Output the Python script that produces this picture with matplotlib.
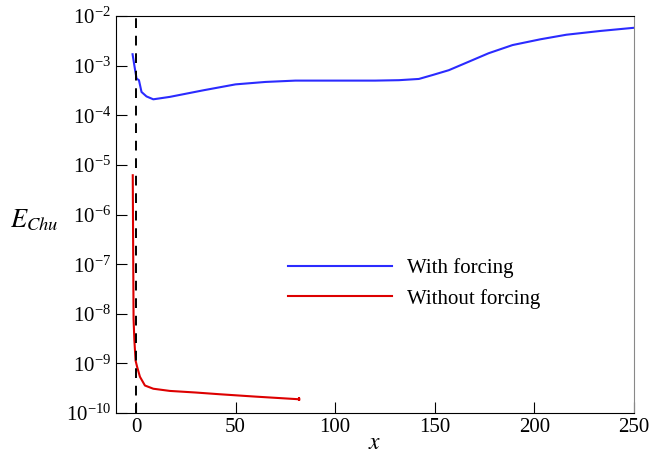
import matplotlib
matplotlib.use("Agg")
import matplotlib.pyplot as plt

plt.rcParams['font.family'] = ['Liberation Serif', 'DejaVu Serif']
plt.rcParams['mathtext.fontset'] = 'stix'

# with forcing
x_forced = [-1.7, -0.5, 0.3, 1.5, 2.8, 5.3, 8.7, 17, 34, 50, 65, 80, 100, 120,
            132, 142, 149, 157, 167, 177, 189, 203, 216, 233, 250]
e_forced = [1.7e-3, 8.5e-4, 5.5e-4, 5.1e-4, 2.95e-4, 2.4e-4, 2.1e-4, 2.35e-4,
            3.2e-4, 4.2e-4, 4.7e-4, 5.0e-4, 5.0e-4, 5.0e-4, 5.1e-4, 5.4e-4,
            6.5e-4, 8.1e-4, 1.2e-3, 1.78e-3, 2.6e-3, 3.4e-3, 4.2e-3, 5.0e-3, 5.8e-3]

# without forcing
x_free = [-1.6, -1.4, -1.2, -0.8, -0.2, 0.6, 2, 4.5, 8.7, 17, 30, 42, 60, 82]
e_free = [6.2e-6, 2.0e-7, 8.0e-9, 3.0e-9, 1.15e-9, 8.5e-10, 5.4e-10, 3.6e-10,
          3.1e-10, 2.8e-10, 2.6e-10, 2.4e-10, 2.15e-10, 1.9e-10]

fig = plt.figure(figsize=(6.5, 4.58), dpi=100)
ax = fig.add_axes([0.1785, 0.098, 0.797, 0.867])

ax.plot(x_forced, e_forced, color='#2b2bff', lw=1.5, label='With forcing')
ax.plot(x_free, e_free, color='#dd0000', lw=1.5, label='Without forcing')
ax.plot(x_free[-1], e_free[-1], marker='|', color='#dd0000', ms=3, mew=1.5)
ax.axvline(0, color='black', ls=(0, (5, 4)), lw=1.4)

ax.set_yscale('log')
ax.set_xlim(-10, 250)
ax.set_ylim(1e-10, 1e-2)
ax.set_yticks([10.0 ** k for k in range(-10, -1)])
ax.minorticks_off()
ax.set_xticks([0, 50, 100, 150, 200, 250])
ax.tick_params(direction='in', length=8, labelsize=15, top=False, right=False)
ax.spines['right'].set_color('#888888')

ax.set_xlabel(r'$x$', fontsize=17, labelpad=-3)
ax.set_ylabel(r'$E_{Chu}$', fontsize=19, rotation=0, va='center', ha='center')
ax.yaxis.set_label_coords(-0.158, 0.487)

ax.legend(loc='center', bbox_to_anchor=(0.575, 0.326), frameon=False, fontsize=15,
          handlelength=5.0, handletextpad=0.7, labelspacing=0.5)

fig.savefig('out.png', dpi=100)
